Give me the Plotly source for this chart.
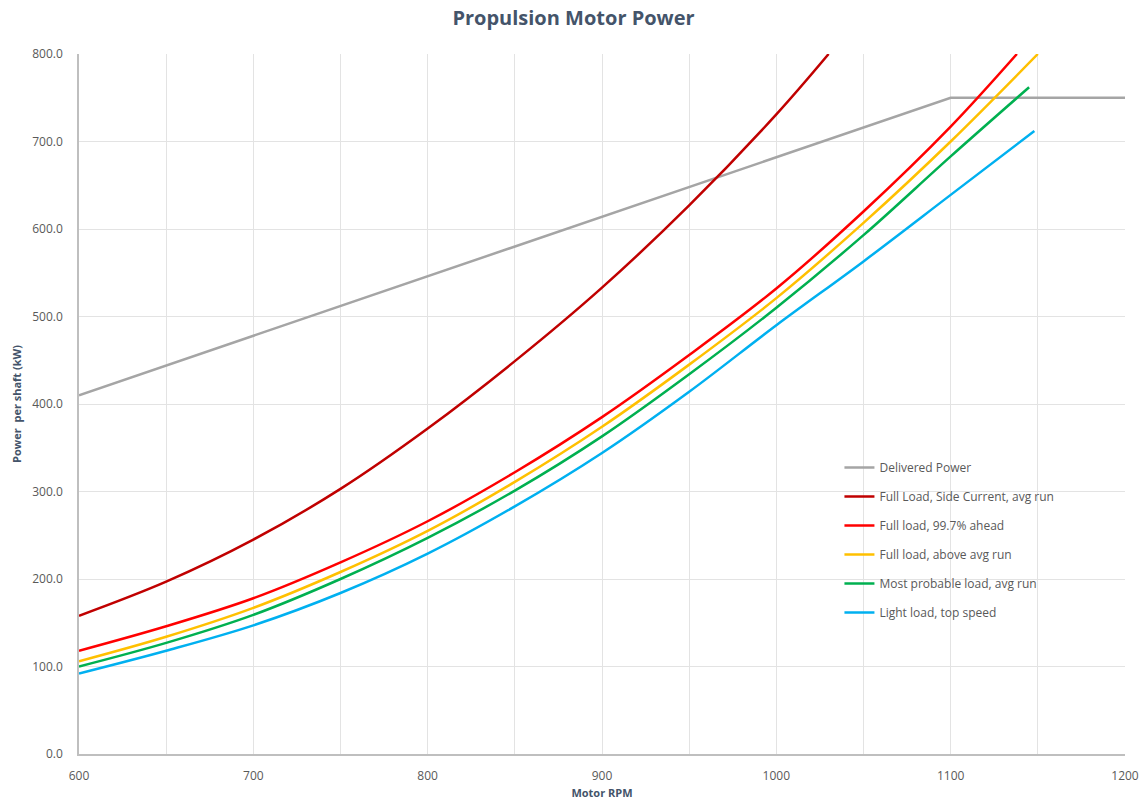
import plotly.graph_objects as go

# Motor speed (rpm) sample points for each load case
rpm_delivered = [600, 1100, 1200]
kw_delivered = [410, 750, 750]

rpm_side = [600, 650, 700, 750, 800, 850, 900, 950, 1000, 1030]
kw_side = [158, 197, 245, 303, 372, 449, 533, 627, 731, 800]

rpm_ahead = [600, 650, 700, 750, 800, 850, 900, 950, 1000, 1050, 1100, 1138]
kw_ahead = [118, 146, 178, 219, 266, 322, 385, 456, 532, 620, 717, 800]

rpm_above = [600, 650, 700, 750, 800, 850, 900, 950, 1000, 1050, 1100, 1150]
kw_above = [106, 134, 167, 208, 255, 311, 374, 445, 521, 607, 700, 800]

rpm_probable = [600, 650, 700, 750, 800, 850, 900, 950, 1000, 1050, 1100, 1145]
kw_probable = [100, 127, 159, 200, 247, 301, 363, 434, 510, 593, 683, 762]

rpm_light = [600, 650, 700, 750, 800, 850, 900, 950, 1000, 1050, 1100, 1148]
kw_light = [92, 118, 147, 184, 229, 283, 344, 414, 490, 563, 639, 712]

series = [
    ("Delivered Power", rpm_delivered, kw_delivered, "#A5A5A5", "linear"),
    ("Full Load, Side Current, avg run", rpm_side, kw_side, "#C00000", "spline"),
    ("Full load, 99.7% ahead", rpm_ahead, kw_ahead, "#FF0000", "spline"),
    ("Full load, above avg run", rpm_above, kw_above, "#FFC000", "spline"),
    ("Most probable load, avg run", rpm_probable, kw_probable, "#00B050", "spline"),
    ("Light load, top speed", rpm_light, kw_light, "#00B0F0", "spline"),
]

fig = go.Figure()
for i, (name, xs, ys, color, shape) in enumerate(series):
    fig.add_trace(go.Scatter(
        x=xs, y=ys, name=name, mode="lines", legendgroup=f"g{i}",
        line=dict(color=color, width=2.5, shape=shape, smoothing=1.0),
    ))

text_color = "#595959"
fig.update_layout(
    width=1147, height=811,
    margin=dict(l=79, r=22, t=54, b=57),
    paper_bgcolor="white", plot_bgcolor="white",
    font=dict(family="Open Sans, sans-serif", color=text_color, size=12),
    title=dict(text="<b>Propulsion Motor Power</b>", x=0.5, xanchor="center",
               y=0.978, yanchor="middle",
               font=dict(size=20, color="#44546A")),
    legend=dict(x=0.727, y=0.43, xanchor="left", yanchor="top",
                bgcolor="rgba(0,0,0,0)", tracegroupgap=10,
                font=dict(size=12, color=text_color)),
    showlegend=True,
)
fig.update_xaxes(
    range=[600, 1200], dtick=100, tick0=600, automargin=False,
    showgrid=True, gridcolor="#E3E3E3", gridwidth=1,
    minor=dict(dtick=50, showgrid=True, gridcolor="#E3E3E3"),
    showline=True, linecolor="#BFBFBF", linewidth=1.5,
    ticks="", ticklabelstandoff=10, tickfont=dict(size=12, color=text_color),
    title=dict(text="<b>Motor RPM</b>", font=dict(size=11, color="#44546A"), standoff=6),
    zeroline=False,
)
fig.update_yaxes(
    range=[0, 800], dtick=100, tickformat=".1f", automargin=False,
    showgrid=True, gridcolor="#E3E3E3", gridwidth=1,
    showline=True, linecolor="#BFBFBF", linewidth=1.5,
    ticks="", ticklabelstandoff=12, tickfont=dict(size=12, color=text_color),
    title=dict(text="<b>Power  per shaft (kW)</b>", font=dict(size=11, color="#44546A"), standoff=8),
    zeroline=False,
)

fig.write_html("out.html")
